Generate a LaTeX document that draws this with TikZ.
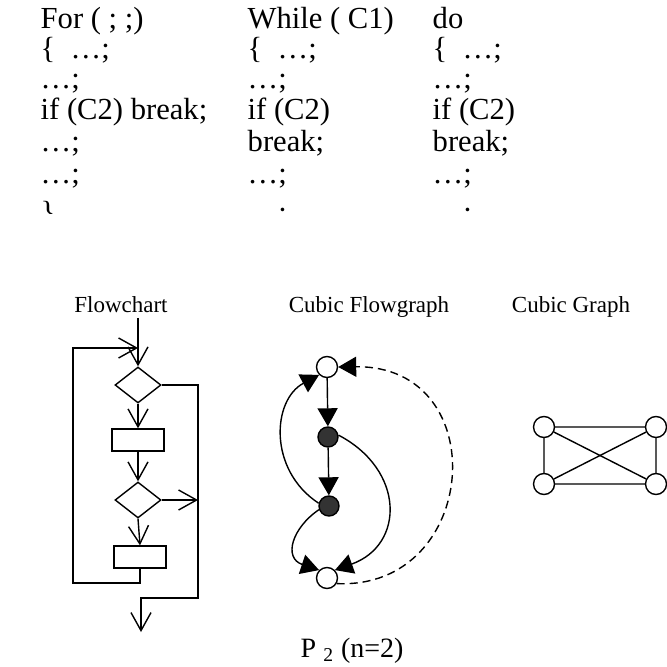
\documentclass[tikz,border=0pt]{standalone}
\usepackage{fontspec}
\setmainfont{Liberation Serif}
\usetikzlibrary{positioning, arrows.meta, shapes.geometric}

\begin{document}
\begin{tikzpicture}[x=0.5pt, y=-0.5pt, line width=0.7pt,
  code/.style={anchor=base west, inner sep=0pt, font=\fontsize{15.3}{17}\selectfont},
  heading/.style={anchor=base, inner sep=0pt, font=\fontsize{11.5}{13}\selectfont},
  decision/.style={draw, diamond, inner sep=0pt, minimum width=23pt, minimum height=18pt},
  proc/.style={draw, rectangle, inner sep=0pt, minimum width=26pt, minimum height=11pt},
  vee/.style={-{Straight Barb[length=9pt, width=10pt]}},
  hollow/.style={draw, circle, fill=white, inner sep=0pt, minimum size=10.5pt},
  dot/.style={draw, circle, fill=black!80, inner sep=0pt, minimum size=10pt},
  tri/.style={-{Triangle[length=9pt, width=10pt]}}]
\useasboundingbox (0,0) rectangle (667,667);

\begin{scope}
\clip (0,0) rectangle (667,214);
\node[code] (f1) at (40,29) {For ( ; ;)};
\node[code] (f2) at (40,59) {\{\hspace{0.5em}…;};
\node[code] (f3) at (40,89) {…;};
\node[code] (f4) at (40,120) {if (C2) break;};
\node[code] (f5) at (40,152) {…;};
\node[code] (f6) at (40,184) {…;};
\node[code] (f7) at (40,223) {\}};
\node[code] (w1) at (247,29) {While ( C1)};
\node[code] (w2) at (247,59) {\{\hspace{0.5em}…;};
\node[code] (w3) at (247,89) {…;};
\node[code] (w4) at (247,120) {if (C2)};
\node[code] (w5) at (247,152) {break;};
\node[code] (w6) at (247,184) {…;};
\node[code] (w7) at (247,223) {…;};
\node[code] (d1t) at (432,29) {do};
\node[code] (d2t) at (432,59) {\{\hspace{0.5em}…;};
\node[code] (d3t) at (432,89) {…;};
\node[code] (d4t) at (432,120) {if (C2)};
\node[code] (d5t) at (432,152) {break;};
\node[code] (d6t) at (432,184) {…;};
\node[code] (d7t) at (432,223) {…;};
\end{scope}

\node[heading] (fc) at (121,313) {Flowchart};
\node[heading] (cf) at (369,313) {Cubic Flowgraph};
\node[heading] (cg) at (571,313) {Cubic Graph};
\node[code, font=\fontsize{14}{16}\selectfont] (pn) at (300,657) {P \textsubscript{2} (n=2)};

\node[decision] (d1) at (138,385) {};
\node[proc] (r1) at (138,440) {};
\node[decision] (d2) at (138,500) {};
\node[proc] (r2) at (140,557) {};
\coordinate (top) at (138,318);
\coordinate (join) at (138,348);
\coordinate (loopb) at (73,583);
\coordinate (rbot) at (198,598);
\coordinate (out) at (141,632);
\draw[vee] (top) -- (d1.north);
\draw[vee] (d1.south) -- (r1.north);
\draw[vee] (r1.south) -- (d2.north);
\draw[vee] (d2.south) -- (r2.north);
\draw[vee] (r2.south) |- (loopb) |- (join);
\draw[vee] (d1.east) -| (rbot) -| (out);
\draw[vee] (d2.east) -- (d2.east -| rbot);

\node[hollow] (n1) at (327,367) {};
\node[dot] (n2) at (328,437) {};
\node[dot] (n3) at (329,506) {};
\node[hollow] (n4) at (327,578) {};
\draw[tri] (n1) -- (n2);
\draw[tri] (n2) -- (n3);
\draw[tri] (n3.165) .. controls (268,470) and (272,400) .. (n1.225);
\draw[tri] (n3.200) .. controls (292,528) and (283,558) .. (n4.135);
\draw[tri] (n2.10) .. controls (405,470) and (405,545) .. (n4.45);
\draw[tri, dash pattern=on 4pt off 2.5pt] (n4.-30) .. controls (480,590) and (495,365) .. (n1.east);

\node[hollow] (a) at (544,427) {};
\node[hollow] (b) at (656,427) {};
\node[hollow] (c) at (544,484) {};
\node[hollow] (d) at (656,484) {};
\draw (a) -- (b) -- (d) -- (c) -- (a) -- (d);
\draw (b) -- (c);
\end{tikzpicture}
\end{document}
